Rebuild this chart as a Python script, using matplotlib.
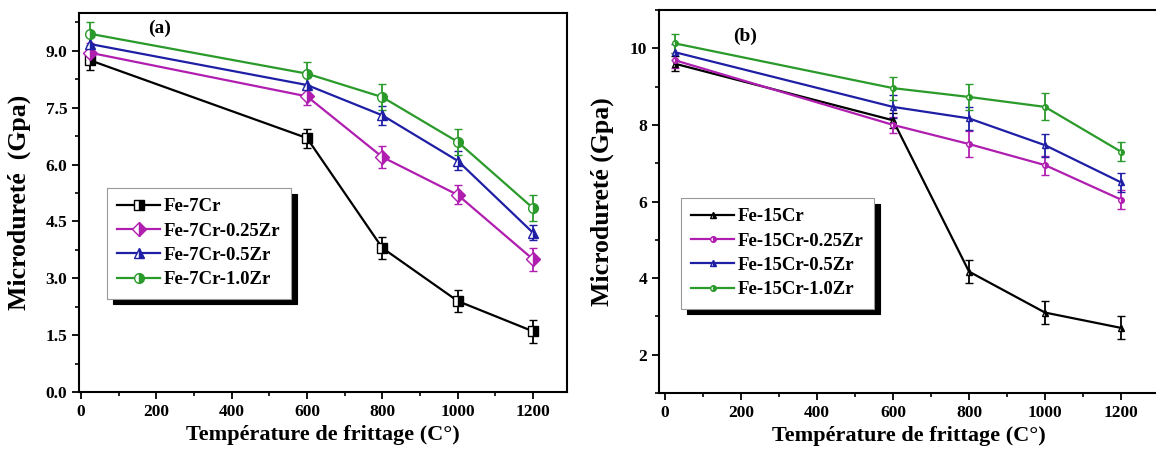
# IMPORT MODULES ====================================================

import matplotlib
matplotlib.use('Agg')
import matplotlib.pyplot as plt
from matplotlib.ticker import MultipleLocator

# =====================================================================

# DATA ================================================================
# Sintering temperature (C) and microhardness (GPa)

T = [25, 600, 800, 1000, 1200]

labels_a = ['Fe-7Cr', 'Fe-7Cr-0.25Zr', 'Fe-7Cr-0.5Zr', 'Fe-7Cr-1.0Zr']
fe7cr = [8.75, 6.7, 3.8, 2.4, 1.6]
fe7cr_025zr = [8.95, 7.8, 6.2, 5.2, 3.5]
fe7cr_05zr = [9.18, 8.1, 7.3, 6.1, 4.2]
fe7cr_10zr = [9.45, 8.4, 7.78, 6.6, 4.85]
err_7cr = [0.25, 0.25, 0.3, 0.3, 0.3]
err_7cr_025zr = [0.25, 0.22, 0.3, 0.25, 0.3]
err_7cr_05zr = [0.2, 0.2, 0.25, 0.25, 0.2]
err_7cr_10zr = [0.3, 0.3, 0.35, 0.35, 0.35]

labels_b = ['Fe-15Cr', 'Fe-15Cr-0.25Zr', 'Fe-15Cr-0.5Zr', 'Fe-15Cr-1.0Zr']
fe15cr = [9.6, 8.12, 4.17, 3.1, 2.7]
fe15cr_025zr = [9.69, 8.0, 7.5, 6.95, 6.05]
fe15cr_05zr = [9.9, 8.47, 8.17, 7.47, 6.5]
fe15cr_10zr = [10.13, 8.96, 8.73, 8.47, 7.3]
err_15cr = [0.2, 0.2, 0.3, 0.3, 0.3]
err_15cr_025zr = [0.2, 0.2, 0.35, 0.25, 0.25]
err_15cr_05zr = [0.2, 0.3, 0.3, 0.3, 0.25]
err_15cr_10zr = [0.25, 0.3, 0.35, 0.35, 0.25]

# =====================================================================

# STYLE ===============================================================

colors = ['black', '#b01eb0', '#1f1fa6', '#2a9a2a']
FONT = 'Liberation Serif'
plt.rcParams['font.family'] = FONT
plt.rcParams['font.weight'] = 'bold'

# =====================================================================


# DEFINE FUNCTIONS ====================================================
# ~~~~~~~~~~~~~~~~~~~~~~~~~~~~~~~~~~~~~~~~~~~~~~~~~~~~~~~~~~~~~~~~~~~~~
# Draw one panel: lines with error bars, returns the line handles

def panel(ax, series, errs, labels, markers, msize, ylabel):
    handles = []
    for y, e, lab, c, m in zip(series, errs, labels, colors, markers):
        eb = ax.errorbar(T, y, yerr=e, color=c, lw=1.6, marker=m, ms=msize,
                         fillstyle='right', markerfacecoloralt='white',
                         markeredgecolor=c, markeredgewidth=1.0,
                         capsize=3, elinewidth=1.3, capthick=1.3, label=lab)
        handles.append(eb.lines[0])
    for s in ax.spines.values():
        s.set_linewidth(1.5)
    ax.xaxis.set_major_locator(MultipleLocator(200))
    ax.xaxis.set_minor_locator(MultipleLocator(100))
    ax.tick_params(which='major', direction='out', length=5, width=1.3,
                   labelsize=12.5)
    ax.tick_params(which='minor', direction='out', length=3, width=1.2)
    for t in ax.get_xticklabels() + ax.get_yticklabels():
        t.set_fontweight('bold')
    ax.set_xlabel('Température de frittage (C°)', fontsize=16,
                  fontweight='bold', labelpad=4)
    ax.set_ylabel(ylabel, fontsize=18.5, fontweight='bold')
    return handles


def legend(ax, handles, labels, anchor):
    leg = ax.legend(handles, labels, loc='upper left', bbox_to_anchor=anchor,
                    bbox_transform=fig.transFigure, borderaxespad=0,
                    fancybox=False,
                    shadow={'ox': 4, 'oy': -4, 'color': 'black', 'alpha': 1},
                    edgecolor='#999999', framealpha=1, borderpad=0.55,
                    handlelength=2.3, handletextpad=0.2, labelspacing=0.38,
                    prop={'family': FONT, 'weight': 'bold', 'size': 13.5})
    leg.get_frame().set_linewidth(0.8)

# ~~~~~~~~~~~~~~~~~~~~~~~~~~~~~~~~~~~~~~~~~~~~~~~~~~~~~~~~~~~~~~~~~~~~~
# MAIN ================================================================

fig = plt.figure(figsize=(11.56, 4.57), dpi=100)

# panel (a)
axa = fig.add_axes([79 / 1156, 1 - 392 / 457, 488 / 1156, 379 / 457])
ha = panel(axa, [fe7cr, fe7cr_025zr, fe7cr_05zr, fe7cr_10zr],
           [err_7cr, err_7cr_025zr, err_7cr_05zr, err_7cr_10zr],
           labels_a, ['s', 'D', '^', 'o'], 7, 'Microdureté  (Gpa)')
axa.set_xlim(-5, 1290)
axa.set_ylim(0, 10)
axa.yaxis.set_major_locator(MultipleLocator(1.5))
axa.yaxis.set_minor_locator(MultipleLocator(0.75))
axa.yaxis.set_major_formatter(plt.FormatStrFormatter('%.1f'))
axa.yaxis.set_label_coords(-0.098, 0.5)
axa.text(210, 9.6, '(a)', fontsize=14, fontweight='bold', ha='center',
         va='center')
legend(axa, ha, labels_a, (107 / 1156, 1 - 188 / 457))

# panel (b) - right spine falls just outside the picture
axb = fig.add_axes([659 / 1156, 1 - 393 / 457, 500 / 1156, 383 / 457])
hb = panel(axb, [fe15cr, fe15cr_025zr, fe15cr_05zr, fe15cr_10zr],
           [err_15cr, err_15cr_025zr, err_15cr_05zr, err_15cr_10zr],
           labels_b, ['^', 'o', '^', 'o'], 4, 'Microdureté (Gpa)')
axb.set_xlim(-16, 1300)
axb.set_ylim(1, 11)
axb.yaxis.set_major_locator(MultipleLocator(2))
axb.yaxis.set_minor_locator(MultipleLocator(1))
axb.yaxis.set_label_coords(-0.09, 0.5)
axb.text(211, 10.3, '(b)', fontsize=14, fontweight='bold', ha='center',
         va='center')
legend(axb, hb, labels_b, (681 / 1156, 1 - 198 / 457))

fig.savefig('out.png', dpi=100)
# ====================================================================
